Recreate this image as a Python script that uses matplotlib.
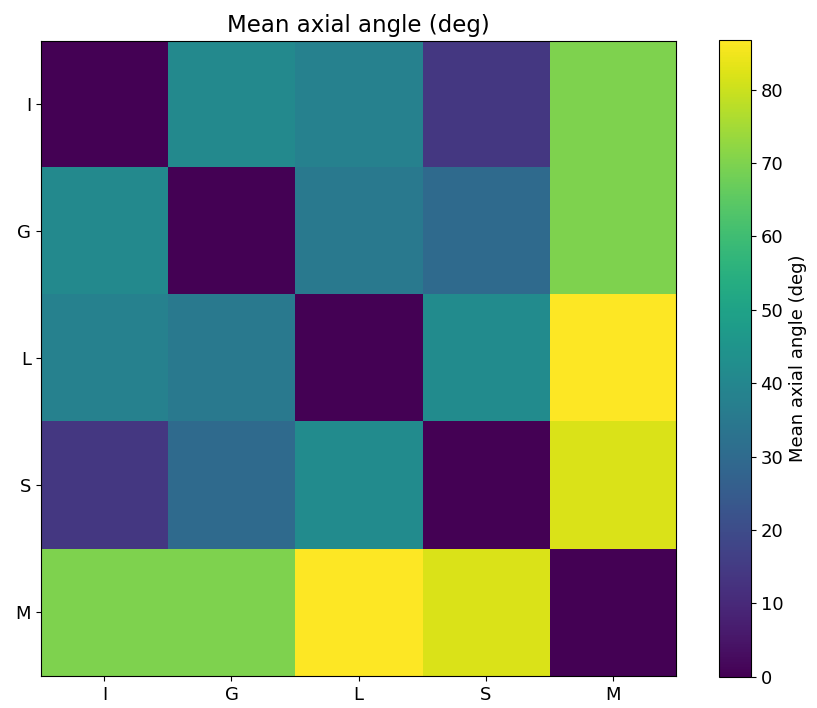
import numpy as np
import matplotlib.pyplot as plt

labels = ['I', 'G', 'L', 'S', 'M']

# mean axial angle between each pair (deg), symmetric
row_I = [0.0, 41.0, 38.0, 14.0, 70.0]
row_G = [41.0, 0.0, 35.0, 30.0, 70.0]
row_L = [38.0, 35.0, 0.0, 42.0, 86.8]
row_S = [14.0, 30.0, 42.0, 0.0, 82.0]
row_M = [70.0, 70.0, 86.8, 82.0, 0.0]

angles = np.array([row_I, row_G, row_L, row_S, row_M])

fig, ax = plt.subplots(figsize=(8.17, 7.08), dpi=100)
im = ax.imshow(angles, cmap='viridis', vmin=0, vmax=angles.max())
ax.set_xticks(range(len(labels)))
ax.set_xticklabels(labels, fontsize=13)
ax.set_yticks(range(len(labels)))
ax.set_yticklabels(labels, fontsize=13)
ax.set_title('Mean axial angle (deg)', fontsize=16.5)

cbar = fig.colorbar(im, ax=ax, fraction=0.046, pad=0.06)
cbar.set_label('Mean axial angle (deg)', fontsize=13)
cbar.ax.tick_params(labelsize=13)

plt.subplots_adjust(left=0.05, right=0.92, top=0.944, bottom=0.044)
plt.savefig('out.png', dpi=100)
